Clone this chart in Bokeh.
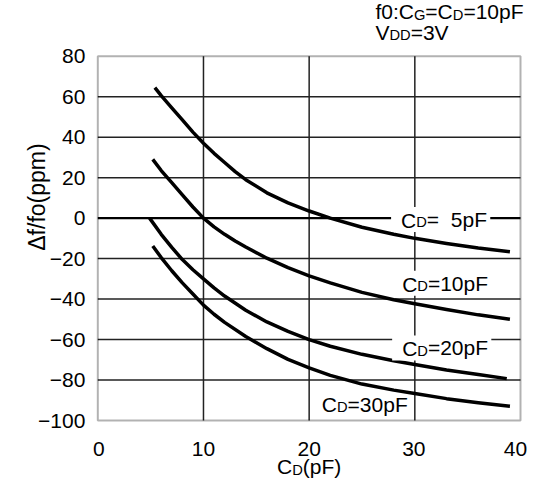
import math
from bokeh.plotting import figure
from bokeh.models import Label, Range1d, BoxAnnotation
from bokeh.core.properties import value
from bokeh.embed import file_html
from bokeh.resources import INLINE

# ---------------- data ----------------
cd5_x = [5.4, 6, 7, 8, 9, 10, 11, 12, 13, 14, 16, 18, 20, 22, 25, 28, 30, 33, 36, 39]
cd5_y = [64.5, 60.5, 54.5, 48.5, 42.5, 37, 32, 27.5, 23, 19, 12.5, 7.5, 3.5, 0, -4.5, -8, -10, -12.5, -14.8, -16.6]

cd10_x = [5.2, 6, 7, 8, 9, 10, 11, 12, 13, 14, 16, 18, 20, 22, 25, 28, 30, 33, 36, 39]
cd10_y = [29, 23.5, 17.5, 11.5, 5.5, 0, -4.3, -8, -11.3, -14.3, -19.8, -24.5, -28.5, -32, -36.7, -40.3, -42.3, -45.2, -47.8, -50]

cd20_x = [4.9, 6, 7, 8, 9, 10, 11, 12, 14, 16, 18, 20, 22, 25, 28, 30, 33, 36, 38.7]
cd20_y = [0, -8, -14.5, -20.5, -25.5, -30, -34.5, -38.5, -45.5, -51.3, -56, -60, -63.3, -67.3, -70.5, -72.3, -75, -77.3, -79.3]

cd30_x = [5.2, 6, 7, 8, 9, 10, 11, 12, 14, 16, 18, 20, 22, 25, 28, 30, 33, 36, 39]
cd30_y = [-13.8, -19.5, -26, -32, -37.5, -43, -47.5, -51.5, -58.5, -64.5, -69.8, -74, -77.7, -82, -85, -86.7, -89.2, -91.2, -93]

x_ticks = [0, 10, 20, 30, 40]
x_tick_labels = ["0", "10", "20", "30", "40"]
y_ticks = [-100, -80, -60, -40, -20, 0, 20, 40, 60, 80]
y_tick_labels = ["\u2212100", "\u221280", "\u221260", "\u221240", "\u221220", "0", "20", "40", "60", "80"]

X_MIN, X_MAX = 0, 40
Y_MIN, Y_MAX = -100, 80

# ---------------- style / layout ----------------
FONT = "Liberation Sans"
FS = 21
SMALL = 0.7
BASE_FIX = 0.41      # em shift to put the alphabetic baseline where intended
W, H = 536, 484
x_label_nudge = [1, 0, 0, -1, -5]   # small horizontal nudges of x tick labels (px)

# Helvetica/Arial advance widths (per 1000 em)
WIDTHS = {' ': 278, '(': 333, ')': 333, ':': 278, '=': 584, 'C': 722, 'D': 722,
          'F': 611, 'G': 778, 'V': 667, 'f': 278, 'p': 556}
for d in "0123456789":
    WIDTHS[d] = 556


def text_width(t, size):
    return sum(WIDTHS.get(ch, 556) for ch in t) * size / 1000.0


# the whole canvas is the plot frame; the visible chart box sits inside it
p = figure(frame_width=W, frame_height=H, min_border=0,
           x_range=Range1d(-9.208, 41.514), y_range=Range1d(-131.62, 107.52),
           x_axis_location=None, y_axis_location=None,
           output_backend="svg", toolbar_location=None)
p.outline_line_color = None
p.background_fill_color = "white"
p.border_fill_color = "white"
p.grid.visible = False

# grid lines at the inner tick positions
gx = [t for t in x_ticks if X_MIN < t < X_MAX]
gy = [t for t in y_ticks if Y_MIN < t < Y_MAX and t != 0]
p.segment(x0=gx, y0=[Y_MIN] * len(gx), x1=gx, y1=[Y_MAX] * len(gx),
          line_color="#222222", line_width=1.5)
p.segment(x0=[X_MIN] * len(gy), y0=gy, x1=[X_MAX] * len(gy), y1=gy,
          line_color="#222222", line_width=1.5)
p.segment(x0=[X_MIN], y0=[0], x1=[X_MAX], y1=[0], line_color="black", line_width=2.2)

# curves
for xs, ys in ((cd5_x, cd5_y), (cd10_x, cd10_y), (cd20_x, cd20_y), (cd30_x, cd30_y)):
    p.line(xs, ys, line_color="black", line_width=3.5, line_join="round")

# chart box
p.add_layout(BoxAnnotation(left=X_MIN, right=X_MAX, bottom=Y_MIN, top=Y_MAX,
                           fill_alpha=0, line_color="black", line_width=2))

# tick labels
p.text(x=x_ticks, y=[Y_MIN] * len(x_ticks), text=x_tick_labels, y_offset=28,
       x_offset=x_label_nudge,
       text_font=value(FONT), text_font_size=f"{FS}px", text_color="black",
       text_align="center", text_baseline="alphabetic")
p.text(x=[X_MIN] * len(y_ticks), y=y_ticks, text=y_tick_labels, x_offset=-12.5,
       text_font=value(FONT), text_font_size=f"{FS}px", text_color="black",
       text_align="right", text_baseline="middle")


def rich_label(x, y, parts, align="left", bg=False, pad=(2, 10, 0, 3)):
    """parts: list of (text, small_flag), drawn side by side on one baseline."""
    items = []
    for t, small in parts:
        fs = FS * SMALL if small else FS
        s = t.lstrip(" ")
        items.append((s, fs, text_width(" " * (len(t) - len(s)), FS), text_width(s, fs)))
    total = sum(g + w for _, _, g, w in items)
    off = -total / 2.0 if align == "center" else 0.0
    first = True
    for t, fs, gap, w in items:
        off += gap
        kw = {}
        shift = 0
        if bg and first:
            top, left, bottom, right = pad
            rest = int(round(total - w - gap)) + right
            kw = dict(background_fill_color="white",
                      padding=dict(left=left, right=rest, top=top, bottom=bottom))
            shift = left
        p.add_layout(Label(x=x, y=y, x_offset=off - shift, y_offset=BASE_FIX * fs,
                           text=t, text_font=FONT,
                           text_font_size=f"{fs:.1f}px", text_color="black",
                           text_baseline="alphabetic", text_align="left", **kw))
        off += w
        first = False


rich_label(28.7, -4.9, [("C", 0), ("D", 1), ("=", 0), ("  5pF", 0)], bg=True)
rich_label(28.8, -36.4, [("C", 0), ("D", 1), ("=10pF", 0)], bg=True)
rich_label(28.8, -68.4, [("C", 0), ("D", 1), ("=20pF", 0)], bg=True)
rich_label(21.2, -96.4, [("C", 0), ("D", 1), ("=30pF", 0)])

# header text
rich_label(26.27, 97.6, [("f0:C", 0), ("G", 1), ("=C", 0), ("D", 1), ("=10pF", 0)])
rich_label(26.27, 87.4, [("V", 0), ("DD", 1), ("=3V", 0)])

# axis titles
rich_label(20, -127.2, [("C", 0), ("D", 1), ("(pF)", 0)], align="center")
p.add_layout(Label(x=-5.8, y=10.4, text="\u0394f/fo(ppm)", angle=math.pi / 2,
                   text_font=FONT, text_font_size="23px", text_color="black",
                   text_align="center", text_baseline="middle"))

open("out.html", "w").write(file_html(p, INLINE))
